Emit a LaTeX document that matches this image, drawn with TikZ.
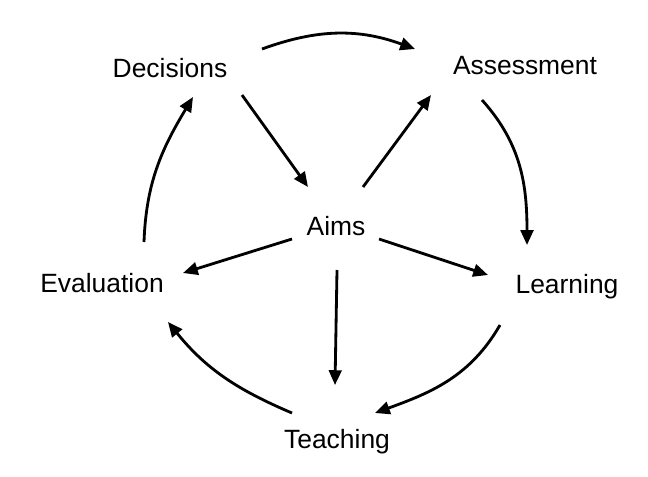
\documentclass[tikz,border=0pt]{standalone}
\usepackage{fontspec}
\setmainfont{Liberation Sans}
\usetikzlibrary{arrows.meta}
\tikzset{
  stage/.style={anchor=base, font=\fontsize{18.8}{22}\selectfont},
  flow/.style={line width=2pt, -{Triangle[length=10.5pt,width=9pt]}}
}
\begin{document}
\begin{tikzpicture}[x=0.025cm, y=0.025cm]
\useasboundingbox (0,0) rectangle (648,476);

\node[stage] (dec)   at (170,399) {Decisions};
\node[stage] (ass)   at (525,402) {Assessment};
\node[stage] (aims)  at (336,241) {Aims};
\node[stage] (eval)  at (102,184) {Evaluation};
\node[stage] (learn) at (567,183) {Learning};
\node[stage] (teach) at (337,28)  {Teaching};

\draw[flow] ([shift={(92,28)}]dec.base) to[bend left=20] ([shift={(-110,25)}]ass.base);
\draw[flow] ([shift={(-43,-26)}]ass.base) to[out=-48, in=90] ([shift={(-40,48)}]learn.base);
\draw[flow] ([shift={(-67,-32)}]learn.base) to[out=-120, in=20] ([shift={(38,35)}]teach.base);
\draw[flow] ([shift={(-45,35)}]teach.base) to[out=157, in=-51] ([shift={(66,-30)}]eval.base);
\draw[flow] ([shift={(42,50)}]eval.base) to[out=88, in=-121] ([shift={(23,-20)}]dec.base);

\draw[flow] ([shift={(72,-18)}]dec.base) -- ([shift={(-28,48)}]aims.base);
\draw[flow] ([shift={(27,48)}]aims.base) -- ([shift={(-94,-21)}]ass.base);
\draw[flow] ([shift={(-44,-4)}]aims.base) -- ([shift={(81,19)}]eval.base);
\draw[flow] ([shift={(43,-4)}]aims.base) -- ([shift={(-79,18)}]learn.base);
\draw[flow] ([shift={(1,-35)}]aims.base) -- ([shift={(-2,63)}]teach.base);

\end{tikzpicture}
\end{document}
